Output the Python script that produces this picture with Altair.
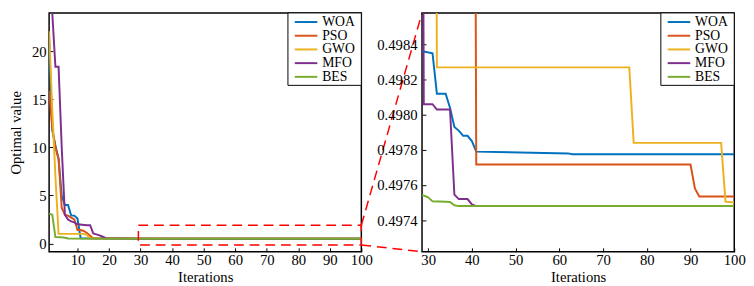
import altair as alt
import pandas as pd

FONT = "'Liberation Serif', 'Times New Roman', Times, 'DejaVu Serif', serif"

algorithms = ["WOA", "PSO", "GWO", "MFO", "BES"]
colors = ["#0072BD", "#D95319", "#EDB120", "#7E2F8E", "#77AC30"]
legend_rank = [0, 1, 2, 3, 4]

woa_it = [1, 2, 3, 4, 5, 6, 7, 8, 9, 10, 11, 28, 29, 31, 32, 34, 35, 36, 37, 38, 39, 40, 41, 62, 63, 100]
woa_val = [21.4, 11.8, 10.2, 8.8, 5.0, 4.0, 4.0, 2.9, 2.9, 2.6, 0.55, 0.49836, 0.49836, 0.49835, 0.49812,
           0.49812, 0.49804, 0.49793, 0.49791, 0.49788, 0.49788, 0.49785, 0.49779, 0.49778, 0.497775, 0.497775]

pso_it = [1, 2, 3, 4, 5, 6, 7, 8, 9, 10, 11, 12, 13, 14, 15, 40, 41, 90, 91, 92, 100]
pso_val = [15.9, 12.0, 10.0, 8.8, 3.7, 3.0, 2.9, 2.7, 2.5, 1.4, 1.4, 1.3, 1.1, 0.8, 0.55, 0.505,
           0.497717, 0.497717, 0.49758, 0.497535, 0.497535]

gwo_it = [1, 2, 3, 4, 12, 13, 14, 31, 32, 76, 77, 97, 98, 100]
gwo_val = [22.1, 14.0, 7.0, 1.0, 1.0, 0.9, 0.55, 0.505, 0.49827, 0.49827, 0.49784, 0.49784, 0.497505, 0.4975]

mfo_it = [1, 2, 3, 4, 5, 6, 7, 8, 9, 10, 13, 14, 15, 16, 17, 18, 19, 28, 29, 31, 32, 35, 36, 37, 39, 40, 41, 100]
mfo_val = [28.0, 24.0, 18.4, 18.4, 10.0, 3.0, 2.5, 2.3, 2.2, 2.0, 1.9, 1.9, 1.05, 0.95, 0.85, 0.7, 0.55,
           0.505, 0.49806, 0.49806, 0.49803, 0.49803, 0.497545, 0.49752, 0.49752, 0.49749, 0.49748, 0.49748]

bes_it = [1, 2, 3, 5, 6, 7, 28, 29, 30, 31, 34, 35, 36, 37, 100]
bes_val = [3.1, 3.0, 0.67, 0.65, 0.6, 0.52, 0.49754, 0.49754, 0.49753, 0.497507, 0.497505, 0.497503,
           0.497485, 0.49748, 0.49748]

left_x_ticks = [10, 20, 30, 40, 50, 60, 70, 80, 90, 100]
left_y_ticks = [0, 5, 10, 15, 20]
right_x_ticks = [30, 40, 50, 60, 70, 80, 90, 100]
right_y_ticks = [0.4974, 0.4976, 0.4978, 0.4980, 0.4982, 0.4984]

left_x_domain = [1, 100]
left_y_domain = [-0.86, 24.0]
right_x_domain = [28.6, 100]
right_y_domain = [0.49722, 0.49858]

zoom_box_it = [29.3]
zoom_box_it2 = [100]
zoom_box_val = [-0.15]
zoom_box_val2 = [1.9]

rows = []
for name, its, vals in [("WOA", woa_it, woa_val), ("PSO", pso_it, pso_val), ("GWO", gwo_it, gwo_val),
                        ("MFO", mfo_it, mfo_val), ("BES", bes_it, bes_val)]:
    for i, v in zip(its, vals):
        rows.append({"alg": name, "it": i, "val": v})
df = pd.DataFrame(rows)
legend_df = pd.DataFrame({"alg": algorithms, "rank": legend_rank})

WL, WR, H, SP = 319, 319, 244, 62
ROW = 14.0
LEG_TOP = 9.3
LEG_FONT = 14
legend_scale = alt.Scale(domain=[-LEG_TOP / ROW, (H - LEG_TOP) / ROW], reverse=True, nice=False, zero=False)
color_scale = alt.Scale(domain=algorithms, range=colors)


def axis(values, title, fmt=None, label_pad=3, title_pad=2):
    kw = dict(values=values, title=title, tickSize=4, offset=-4, domain=False, grid=False,
              labelPadding=label_pad, titlePadding=title_pad, labelFlush=False, labelOverlap=False,
              tickColor="black", tickWidth=1, labelFont=FONT, titleFont=FONT, labelFontSize=15,
              titleFontSize=15, titleFontWeight="normal", labelColor="black", titleColor="black")
    if fmt:
        kw["format"] = fmt
    return alt.Axis(**kw)


def legend_layer(width):
    box = alt.Chart(pd.DataFrame({"k": [0]})).mark_rect(
        fill="white", stroke="black", strokeWidth=1).encode(
        x=alt.value(width - 75), x2=alt.value(width), y=alt.value(0), y2=alt.value(74))
    yl = alt.Y("rank:Q", scale=legend_scale, axis=None)
    sym = alt.Chart(legend_df).mark_rule(strokeWidth=2).encode(
        x=alt.value(width - 68), x2=alt.value(width - 45), y=yl,
        color=alt.Color("alg:N", scale=color_scale, legend=None))
    txt = alt.Chart(legend_df).mark_text(
        align="left", baseline="middle", font=FONT, fontSize=LEG_FONT, color="black").encode(
        x=alt.value(width - 40), y=yl, text="alg:N")
    return alt.layer(box, sym, txt)


def panel(xdom, ydom, xticks, yticks, yfmt, ylabelpad, ytitle, ytitlepad):
    xenc = alt.X("it:Q", scale=alt.Scale(domain=xdom, nice=False, zero=False),
                 axis=axis(xticks, "Iterations", label_pad=1, title_pad=2), title="Iterations")
    yenc = alt.Y("val:Q", scale=alt.Scale(domain=ydom, nice=False, zero=False),
                 axis=axis(yticks, ytitle, yfmt, ylabelpad, ytitlepad), title=ytitle)
    cenc = alt.Color("alg:N", scale=color_scale, legend=None)
    layers = []
    for name in algorithms:
        layers.append(
            alt.Chart(df).transform_filter(alt.datum.alg == name)
            .mark_line(clip=True, strokeWidth=2)
            .encode(x=xenc, y=yenc, color=cenc)
        )
    return layers, xenc, yenc


left_layers, lx, ly = panel(left_x_domain, left_y_domain, left_x_ticks, left_y_ticks, None, 3,
                            "Optimal value", 8)

box_df = pd.DataFrame({"it": zoom_box_it, "it2": zoom_box_it2, "val": zoom_box_val, "val2": zoom_box_val2})
box = alt.Chart(box_df).mark_rect(fillOpacity=0, stroke="#FF0000", strokeWidth=1.5,
                                  strokeDash=[10, 6]).encode(x=lx, x2="it2:Q", y=ly, y2="val2:Q")
upper = alt.Chart(pd.DataFrame({"it": zoom_box_it2, "val": zoom_box_val2})).mark_rule(
    color="#FF0000", strokeWidth=1.5, strokeDash=[10, 6]).encode(
    x=lx, y=ly, x2=alt.value(WL + SP), y2=alt.value(0))
lower = alt.Chart(pd.DataFrame({"it": zoom_box_it2, "val": zoom_box_val})).mark_rule(
    color="#FF0000", strokeWidth=1.5, strokeDash=[10, 6]).encode(
    x=lx, y=ly, x2=alt.value(WL + SP), y2=alt.value(H))

left = alt.layer(alt.layer(*left_layers, box, upper, lower), legend_layer(WL)).resolve_scale(
    y="independent").properties(width=WL, height=H)

right_layers, rx, ry = panel(right_x_domain, right_y_domain, right_x_ticks, right_y_ticks, ".4f", 5, "", 0)
right = alt.layer(alt.layer(*right_layers), legend_layer(WR)).resolve_scale(
    y="independent").properties(width=WR, height=H)

chart = alt.hconcat(left, right, spacing=SP, bounds="flush").properties(padding=0).configure(
    font=FONT).configure_view(stroke="black", strokeWidth=1.5).configure_axis(
    labelFont=FONT, titleFont=FONT, labelFontSize=15, titleFontSize=15, titleFontWeight="normal",
    labelColor="black", titleColor="black")

chart.save("out.html", embed_options={"renderer": "svg", "actions": False})
